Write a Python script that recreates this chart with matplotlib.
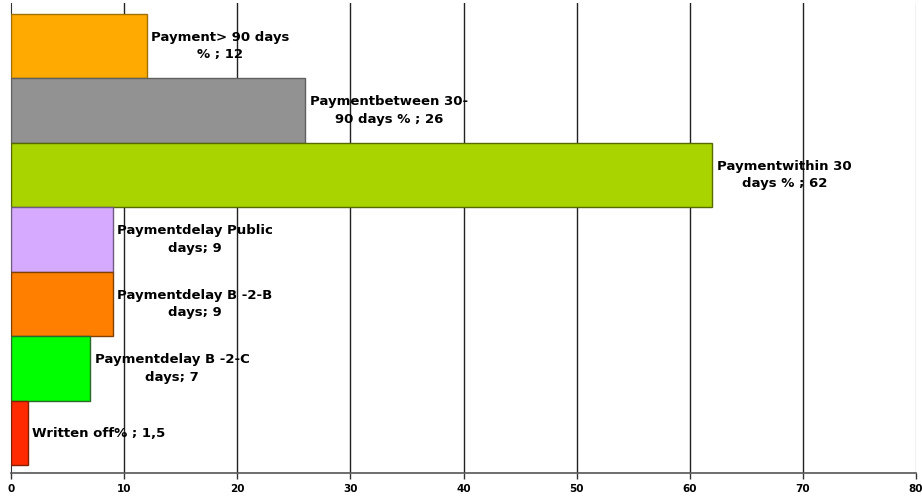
import matplotlib.pyplot as plt
import numpy as np

# bars listed top to bottom
labels = ["Payment> 90 days\n% ; 12",
          "Paymentbetween 30-\n90 days % ; 26",
          "Paymentwithin 30\ndays % ; 62",
          "Paymentdelay Public\ndays; 9",
          "Paymentdelay B -2-B\ndays; 9",
          "Paymentdelay B -2-C\ndays; 7",
          "Written off% ; 1,5"]
values = [12, 26, 62, 9, 9, 7, 1.5]
colors = ["#FFAA00", "#929292", "#AAD400", "#D5AAFF", "#FF8000", "#00FF00", "#FF2A00"]
edges = ["#A07000", "#606060", "#556A00", "#705A80", "#804000", "#2A6A2A", "#802000"]
xticks = [0, 10, 20, 30, 40, 50, 60, 70, 80]

fig = plt.figure(figsize=(9.22, 4.99), dpi=100)
ax = fig.add_axes([11/922, 26/499, 905/922, 470/499])

pos = np.arange(len(values))
ax.barh(pos, values, height=1.0, color=colors, edgecolor=edges, linewidth=1, zorder=3)

for i in range(len(values)):
    ax.text(values[i] + 0.4, pos[i], labels[i], ha="left", va="center",
            multialignment="center", fontsize=9.5, fontweight="bold",
            linespacing=1.45, zorder=4)

ax.set_xlim(0, 80)
ax.set_ylim(6.62, -0.67)
ax.set_xticks(xticks)
ax.set_xticklabels([str(t) for t in xticks], fontsize=7.5, fontweight="bold")
ax.set_yticks([])
ax.tick_params(axis="x", direction="out", length=4, width=1, color="#333333", pad=4)
for t in xticks[1:-1]:
    ax.axvline(t, color="#222222", linewidth=1, zorder=1)
ax.axvline(80, color="#BBBBBB", linewidth=1, zorder=1)

for s in ["top", "right"]:
    ax.spines[s].set_visible(False)
ax.spines["left"].set_color("#333333")
ax.spines["bottom"].set_color("#555555")
ax.spines["bottom"].set_linewidth(1.2)

fig.savefig("out.png", dpi=100)
